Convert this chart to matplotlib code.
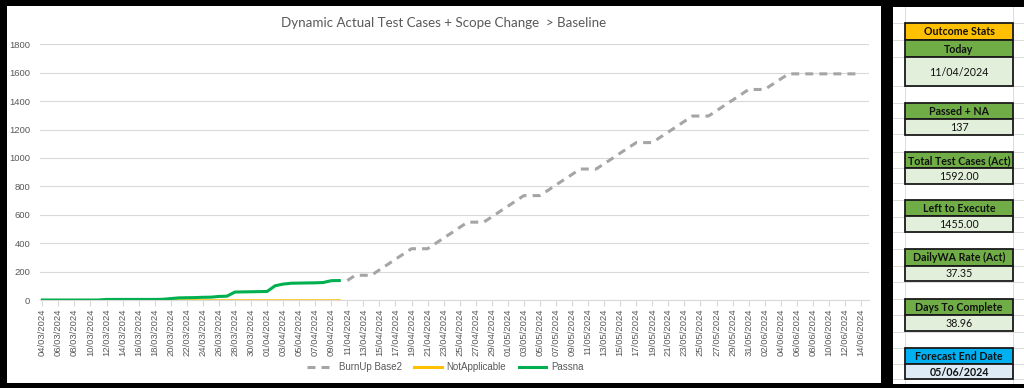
import numpy as np
import pandas as pd
import matplotlib
matplotlib.use("Agg")
import matplotlib.pyplot as plt
from matplotlib.patches import Rectangle
from matplotlib.lines import Line2D

# ---- data ----
dates = pd.date_range("2024-03-04", "2024-06-14", freq="D")
date_labels = [d.strftime("%d/%m/%Y") for d in dates]

# actuals 04/03 .. 10/04
passna = [0, 0, 0, 0, 0, 0, 0, 0,
          4, 4, 4, 4, 4, 4, 4, 5,
          10, 15, 16, 17, 19, 20, 25, 27,
          56, 57, 58, 59, 60,
          100, 112, 118, 119, 120, 121, 123, 136, 137]
not_applicable = [0] * len(passna)

# forecast burn-up 11/04 .. 14/06
burnup = [137, 174, 174, 174, 212, 249, 287, 324, 361, 361, 361,
          398, 436, 473, 511, 548, 548, 548,
          585, 623, 660, 698, 735, 735, 735,
          772, 810, 847, 884, 922, 922, 922,
          959, 996, 1034, 1071, 1108, 1108, 1108,
          1146, 1183, 1220, 1258, 1295, 1295, 1295,
          1332, 1370, 1407, 1444, 1482, 1482, 1482,
          1519, 1556, 1592,
          1592, 1592, 1592, 1592, 1592, 1592, 1592, 1592, 1592]

stat_labels = ["Today", "Passed + NA", "Total Test Cases (Act)", "Left to Execute",
               "DailyWA Rate (Act)", "Days To Complete", "Forecast End Date"]
stat_values = ["11/04/2024", "137", "1592.00", "1455.00", "37.35", "38.96", "05/06/2024"]

W, H = 1024, 388
fig = plt.figure(figsize=(W / 100, H / 100), dpi=100, facecolor="black")

def px_box(x0, y0, x1, y1):
    # pixel box (top-left origin) -> figure fraction rect
    return [x0 / W, 1 - y1 / H, (x1 - x0) / W, (y1 - y0) / H]

# white chart area
fig.add_artist(Rectangle((7 / W, 1 - 383 / H), 874 / W, 377 / H,
                         transform=fig.transFigure, facecolor="white", edgecolor="none", zorder=0))

# ---- chart ----
tick_font = "Liberation Sans"
grey_txt = "#595959"
ax = fig.add_axes(px_box(40, 44.3, 869, 300))
ax.set_facecolor("none")
x_all = np.arange(len(dates))
x_act = x_all[:len(passna)]
x_fc = x_all[len(passna):]

ax.plot(x_fc, burnup, color="#A5A5A5", lw=2.2, dashes=(2.6, 2.0), dash_capstyle="butt", zorder=3)
ax.plot(x_act, not_applicable, color="#FFC000", lw=1.8, zorder=3)
ax.plot(x_act, passna, color="#00B050", lw=2.2, zorder=4)

ax.set_xlim(-0.29, 103.0)
ax.set_ylim(0, 1800)
ax.set_yticks(range(0, 1801, 200))
ax.set_xticks(x_all[::2])
ax.set_xticklabels(date_labels[::2], rotation=90, fontsize=6.8, family=tick_font, color=grey_txt)
for lab in ax.get_yticklabels():
    lab.set_fontsize(6.8)
    lab.set_family(tick_font)
    lab.set_color(grey_txt)
ax.grid(axis="y", color="#D9D9D9", lw=0.8)
ax.set_axisbelow(True)
for s in ["top", "right", "left"]:
    ax.spines[s].set_visible(False)
ax.spines["bottom"].set_color("#D9D9D9")
ax.tick_params(axis="y", length=0, pad=7)
ax.tick_params(axis="x", length=4, color="#D9D9D9", pad=2)

fig.text(444 / W, 1 - 23 / H, "Dynamic Actual Test Cases + Scope Change  > Baseline",
         ha="center", va="center", fontsize=9.6, family="Lato", color=grey_txt)

handles = [Line2D([], [], color="#A5A5A5", lw=2.2, dashes=(2.6, 2.0)),
           Line2D([], [], color="#FFC000", lw=2.2),
           Line2D([], [], color="#00B050", lw=2.2)]
fig.legend(handles, ["BurnUp Base2", "NotApplicable", "Passna"], loc="center",
           bbox_to_anchor=(445 / W, 1 - 367 / H), ncol=3, frameon=False,
           prop={"family": tick_font, "size": 7}, labelcolor=grey_txt,
           handlelength=2.8, handletextpad=0.5, columnspacing=1.3)

# ---- stats panel ----
sp = fig.add_axes(px_box(893, 7, 1024, 384))
sp.set_xlim(893, 1024)
sp.set_ylim(384, 7)
sp.set_facecolor("white")
sp.axis("off")
sp.add_patch(Rectangle((893, 7), 131, 377, facecolor="white", edgecolor="none", zorder=0))

rows = [6.2, 22.7, 40, 57.3, 86, 102.7, 118.3, 134.3, 151.7, 167.7, 183.3, 200,
        216.7, 232.3, 249.3, 265.7, 281.7, 299, 315, 331.7, 347.7, 364.3, 379.3]
for r in rows:
    sp.plot([893, 1024], [r, r], color="#D6D6D6", lw=0.6, zorder=1)
for c in [905, 1013]:
    sp.plot([c, c], [7, 384], color="#D6D6D6", lw=0.6, zorder=1)

bx0, bx1 = 905, 1013
box_font = "Lato"

def cell(top, bot, text, face, bold, size=7.7):
    sp.add_patch(Rectangle((bx0, top), bx1 - bx0, bot - top, facecolor=face,
                           edgecolor="#1A1A1A", lw=1.3, zorder=2))
    sp.text((bx0 + bx1) / 2, (top + bot) / 2 + 0.5, text, ha="center", va="center",
            fontsize=size, family=box_font, fontweight="bold" if bold else "normal",
            color="#111111", zorder=3)

cell(22.7, 40, "Outcome Stats", "#FFC000", True)
cell(40, 57.3, stat_labels[0], "#70AD47", True)
cell(57.3, 86, stat_values[0], "#E2EFDA", False)

tops = [102.7, 151.7, 200, 249.3, 299, 347.7]
for i, top in enumerate(tops):
    lab = stat_labels[i + 1]
    val = stat_values[i + 1]
    last = lab == "Forecast End Date"
    cell(top, top + 16.3, lab, "#00B0F0" if last else "#70AD47", True)
    cell(top + 16.3, top + 31.8 if not last else top + 31.6, val,
         "#DDEBF7" if last else "#E2EFDA", last)

fig.savefig("out.png", dpi=100, facecolor=fig.get_facecolor())
